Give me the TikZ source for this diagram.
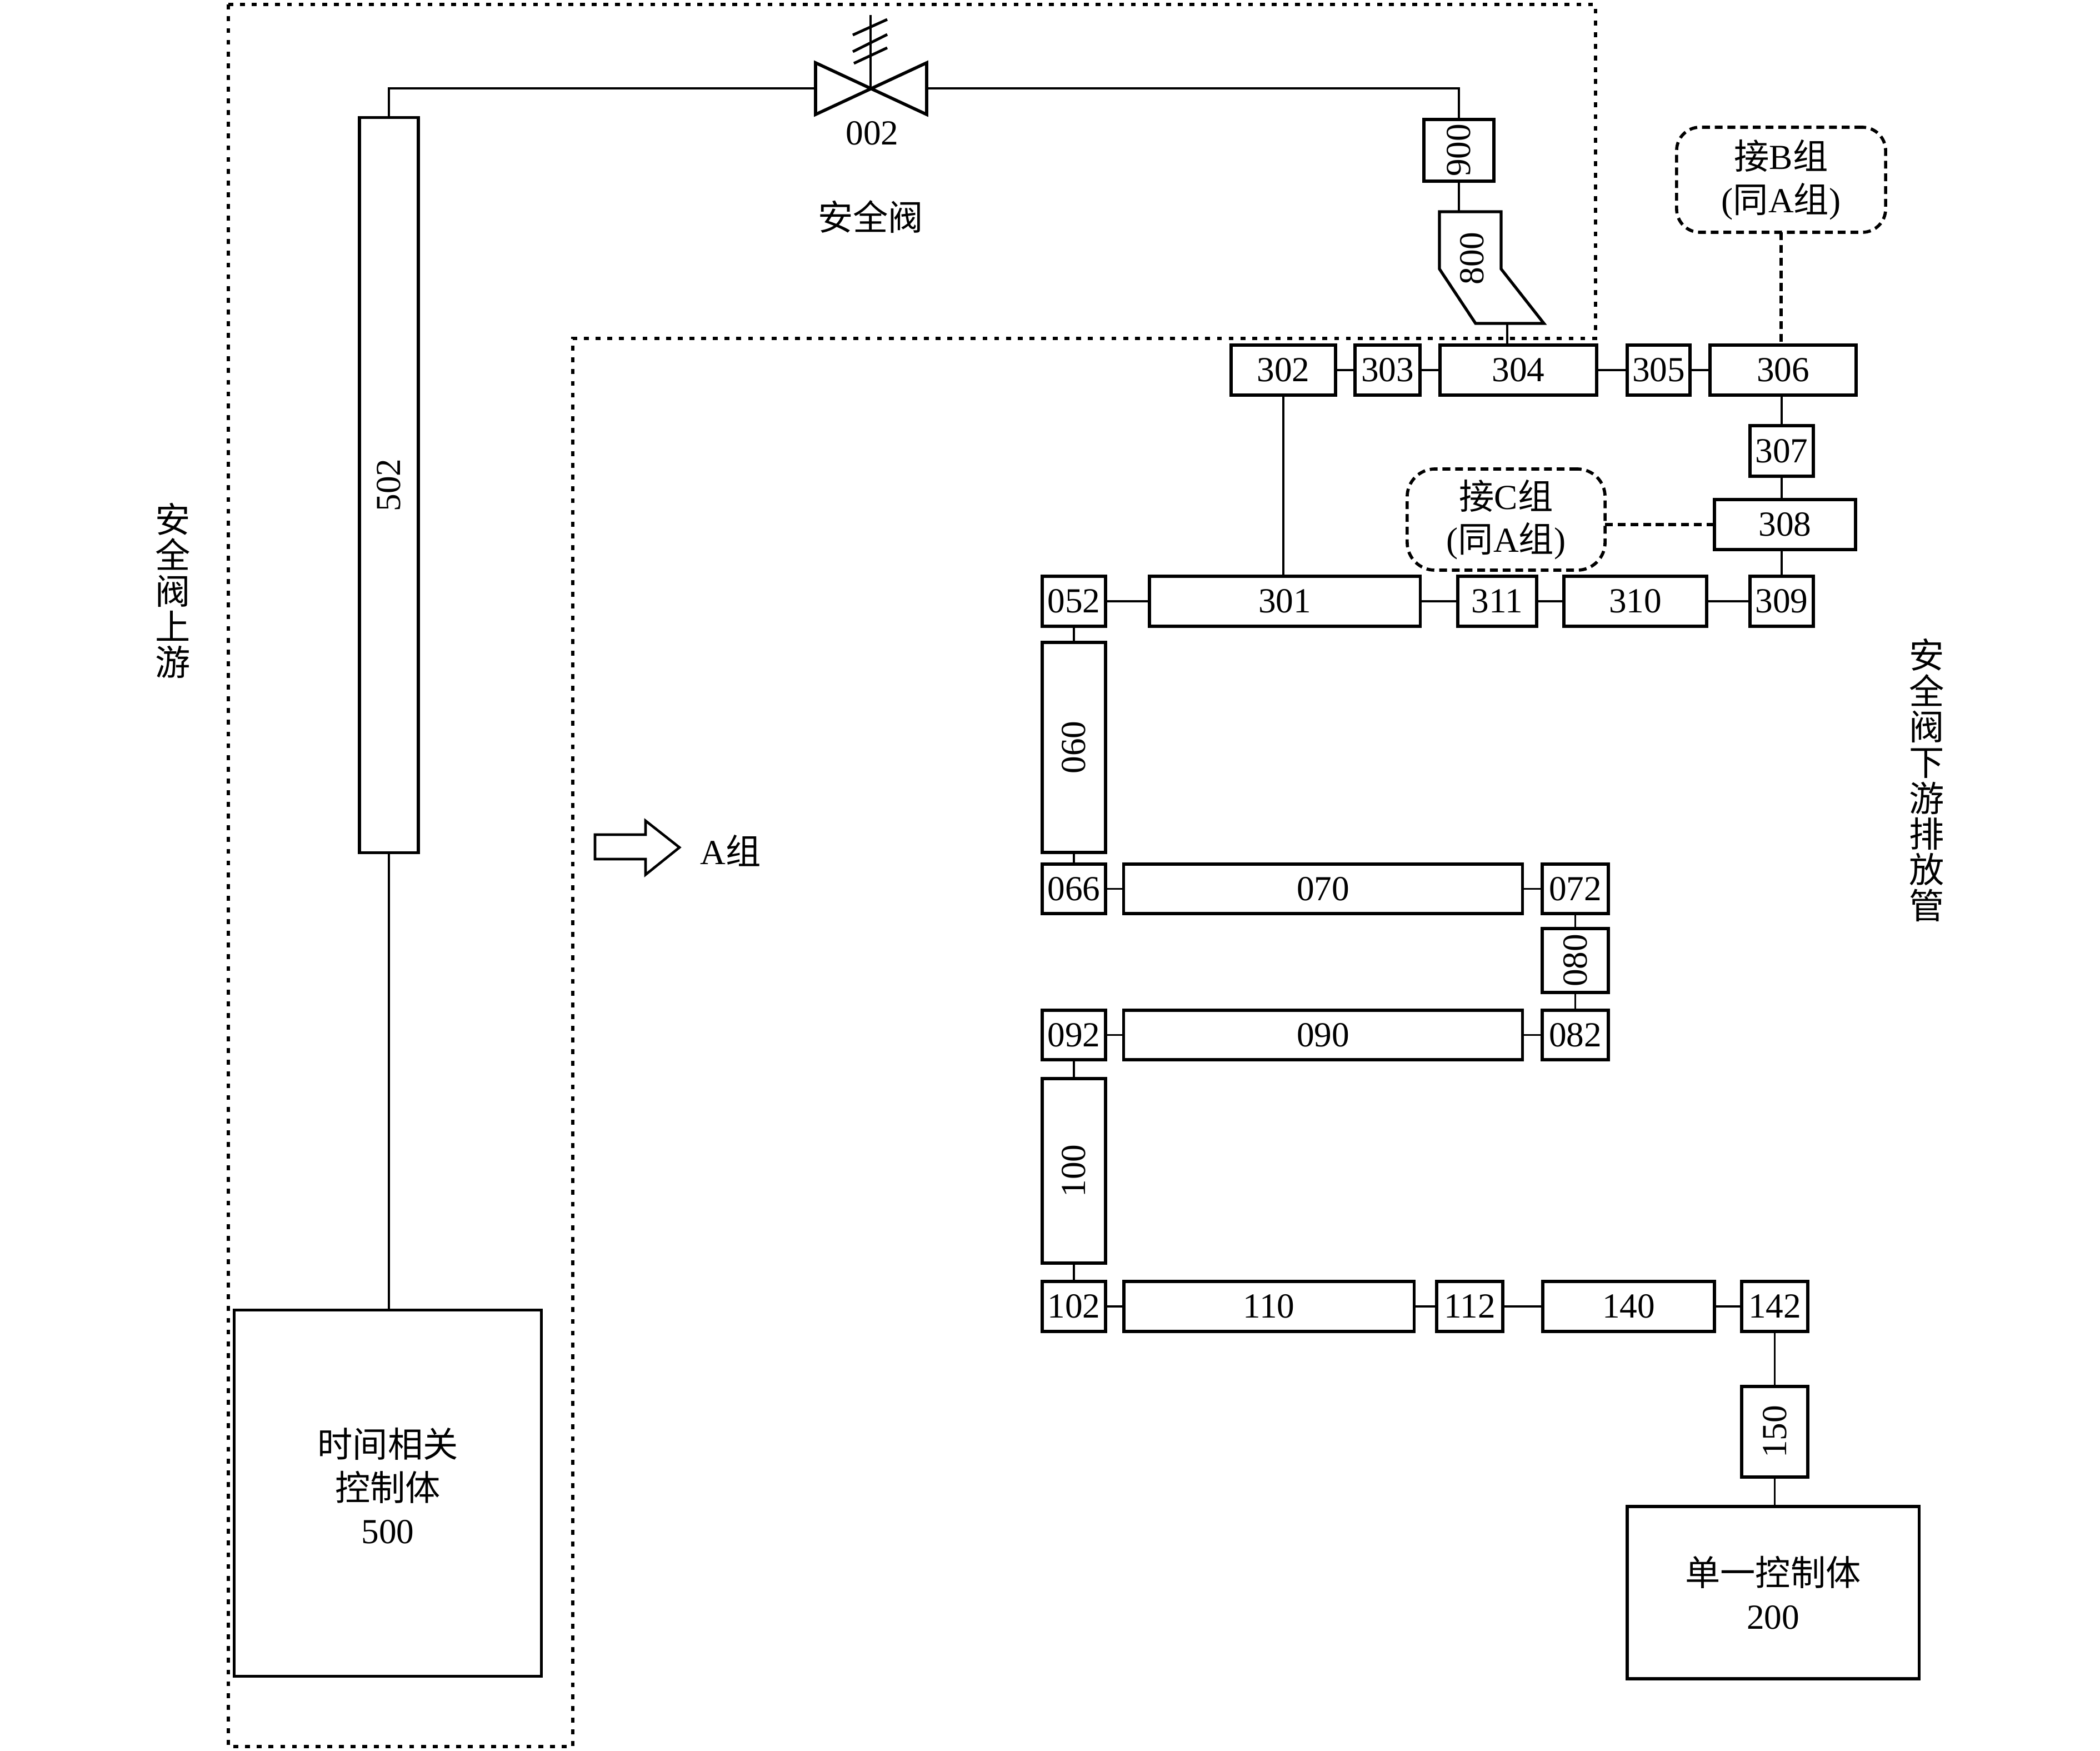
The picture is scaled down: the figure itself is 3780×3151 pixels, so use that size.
\documentclass[tikz,border=0pt]{standalone}
\usepackage{fontspec}
\setmainfont{Liberation Serif}
\newfontfamily\cjk{Noto Sans CJK SC}
\begin{document}
\begin{tikzpicture}[x=0.01cm,y=-0.01cm,
  every node/.style={font=\fontsize{18}{22}\selectfont, inner sep=0pt, outer sep=0pt},
  box/.style={draw, line width=1.5pt, rectangle},
  pipe/.style={line width=1.1pt},
  dotb/.style={line width=1.5pt, dash pattern=on 2.5pt off 3.5pt},
  dsh/.style={line width=1.6pt, dash pattern=on 4pt off 2.5pt},
  vtext/.style={align=center, font=\cjk\fontsize{18}{18.3}\selectfont},
  vlab/.style={label={[rotate=90]center:#1}}
]
\useasboundingbox (0,0) rectangle (3780,3151);

% outer dotted region
\draw[dotb] (411,8) -- (2872,8) -- (2872,609) -- (1031,609) -- (1031,3143) -- (411,3143) -- cycle;

% left side
\node[box, minimum width=1.06cm, minimum height=13.22cm, vlab=502] (n502) at (700,873) {};
\node[box, minimum width=5.52cm, minimum height=6.58cm] (n500) at (698,2687) {};
\node[align=center] (t500) at (698,2674) {{\cjk 时间相关}\\{\cjk 控制体}\\500};
\draw[pipe] (n502.south) -- (n502.south |- n500.north);

\node[vtext] (tup) at (311,1063) {安\\全\\阀\\上\\游};
\node[vtext] (tdown) at (3468,1404) {安\\全\\阀\\下\\游\\排\\放\\管};

% group arrow
\draw[line width=1.3pt] (1071,1502) -- (1162,1502) -- (1162,1477) -- (1223,1525) -- (1162,1574) -- (1162,1546) -- (1071,1546) -- cycle;
\node (tA) at (1315,1531) {A{\cjk 组}};

% valve 002
\coordinate (vL) at (1468,159);
\coordinate (vR) at (1668,159);
\coordinate (vC) at (1567,159);
\draw[line width=1.6pt, line join=miter] (1468,113) -- (1468,206) -- (1668,113) -- (1668,206) -- cycle;
\draw[line width=1.4pt] (vC) -- (1567,27);
\draw[line width=1.4pt] (1535,63) -- (1597,35);
\draw[line width=1.4pt] (1535,93) -- (1597,62);
\draw[line width=1.4pt] (1537,114) -- (1597,86);
\node (t002) at (1570,240) {002};
\node (tvalve) at (1567,390) {\cjk 安全阀};

\draw[pipe] (n502.north) |- (vL);

% 900 and 800
\node[box, minimum width=1.26cm, minimum height=1.11cm, vlab=900] (n900) at (2626,270.5) {};
\draw[pipe] (vR) -| (n900.north);
\coordinate (p800t) at (2626,381);
\coordinate (p800b) at (2713,582);
\draw[box, line join=miter] (2591,381) -- (2702,381) -- (2702,484) -- (2779,582) -- (2656,582) -- (2591,484) -- cycle;
\node[rotate=90] (t800) at (2650,465) {800};
\draw[pipe] (n900.south) -- (p800t);

% top row
\node[box, minimum width=1.88cm, minimum height=0.90cm] (n302) at (2310,666) {302};
\node[box, minimum width=1.17cm, minimum height=0.90cm] (n303) at (2497.5,666) {303};
\node[box, minimum width=2.82cm, minimum height=0.90cm] (n304) at (2733,666) {304};
\node[box, minimum width=1.13cm, minimum height=0.90cm] (n305) at (2985.5,666) {305};
\node[box, minimum width=2.63cm, minimum height=0.90cm] (n306) at (3209.5,666) {306};
\draw[pipe] (p800b) -- (p800b |- n304.north);
\draw[pipe] (n302) -- (n303);
\draw[pipe] (n303) -- (n304);
\draw[pipe] (n304) -- (n305);
\draw[pipe] (n305) -- (n306);

\node[box, minimum width=1.14cm, minimum height=0.91cm] (n307) at (3207,811.5) {307};
\node[box, minimum width=2.54cm, minimum height=0.90cm] (n308) at (3213,944) {308};
\node[box, minimum width=1.14cm, minimum height=0.90cm] (n309) at (3207,1082) {309};
\draw[pipe] (n307.north) -- (n307.north |- n306.south);
\draw[pipe] (n307.south) -- (n307.south |- n308.north);
\draw[pipe] (n309.north) -- (n309.north |- n308.south);

% bubbles
\node[draw, dsh, rounded corners=0.42cm, minimum width=3.76cm, minimum height=1.89cm, align=center] (bB) at (3206,323.5) {{\cjk 接}B{\cjk 组}\\({\cjk 同}A{\cjk 组})};
\node[draw, dsh, rounded corners=0.5cm, minimum width=3.56cm, minimum height=1.82cm, align=center] (bC) at (2711,935) {{\cjk 接}C{\cjk 组}\\({\cjk 同}A{\cjk 组})};
\draw[dsh] (bB.south) -- (bB.south |- n306.north);
\draw[dsh] (n308.west) -- (n308.west -| bC.east);

% second row
\node[box, minimum width=2.57cm, minimum height=0.90cm] (n310) at (2943.5,1082) {310};
\node[box, minimum width=1.42cm, minimum height=0.90cm] (n311) at (2695,1082) {311};
\node[box, minimum width=4.87cm, minimum height=0.90cm] (n301) at (2312.5,1082) {301};
\node[box, minimum width=1.14cm, minimum height=0.90cm] (n052) at (1933,1082) {052};
\draw[pipe] (n309) -- (n310);
\draw[pipe] (n310) -- (n311);
\draw[pipe] (n311) -- (n301);
\draw[pipe] (n301) -- (n052);
\draw[pipe] (n302.south) -- (n302.south |- n301.north);

% down chain
\node[box, minimum width=1.14cm, minimum height=3.78cm, vlab=060] (n060) at (1933,1345) {};
\node[box, minimum width=1.14cm, minimum height=0.89cm] (n066) at (1933,1599.5) {066};
\node[box, minimum width=7.17cm, minimum height=0.89cm] (n070) at (2381.5,1599.5) {070};
\node[box, minimum width=1.19cm, minimum height=0.89cm] (n072) at (2835.5,1599.5) {072};
\node[box, minimum width=1.19cm, minimum height=1.15cm, vlab=080] (n080) at (2835.5,1728.5) {};
\node[box, minimum width=1.19cm, minimum height=0.89cm] (n082) at (2835.5,1862.5) {082};
\node[box, minimum width=7.17cm, minimum height=0.89cm] (n090) at (2381.5,1862.5) {090};
\node[box, minimum width=1.14cm, minimum height=0.89cm] (n092) at (1933,1862.5) {092};
\node[box, minimum width=1.14cm, minimum height=3.32cm, vlab=100] (n100) at (1933,2107) {};
\node[box, minimum width=1.14cm, minimum height=0.90cm] (n102) at (1933,2351) {102};
\node[box, minimum width=5.22cm, minimum height=0.90cm] (n110) at (2284,2351) {110};
\node[box, minimum width=1.19cm, minimum height=0.90cm] (n112) at (2645.5,2351) {112};
\node[box, minimum width=3.09cm, minimum height=0.90cm] (n140) at (2931.5,2351) {140};
\node[box, minimum width=1.19cm, minimum height=0.90cm] (n142) at (3194.5,2351) {142};
\node[box, minimum width=1.19cm, minimum height=1.63cm, vlab=150] (n150) at (3194.5,2576.5) {};
\node[box, minimum width=5.25cm, minimum height=3.10cm, align=center] (n200) at (3191.5,2866) {{\cjk 单一控制体}\\200};

\draw[pipe] (n052) -- (n060);
\draw[pipe] (n060) -- (n066);
\draw[pipe] (n066) -- (n070);
\draw[pipe] (n070) -- (n072);
\draw[pipe] (n072) -- (n080);
\draw[pipe] (n080) -- (n082);
\draw[pipe] (n082) -- (n090);
\draw[pipe] (n090) -- (n092);
\draw[pipe] (n092) -- (n100);
\draw[pipe] (n100) -- (n102);
\draw[pipe] (n102) -- (n110);
\draw[pipe] (n110) -- (n112);
\draw[pipe] (n112) -- (n140);
\draw[pipe] (n140) -- (n142);
\draw[pipe] (n142) -- (n150);
\draw[pipe] (n150.south) -- (n150.south |- n200.north);
\end{tikzpicture}
\end{document}
